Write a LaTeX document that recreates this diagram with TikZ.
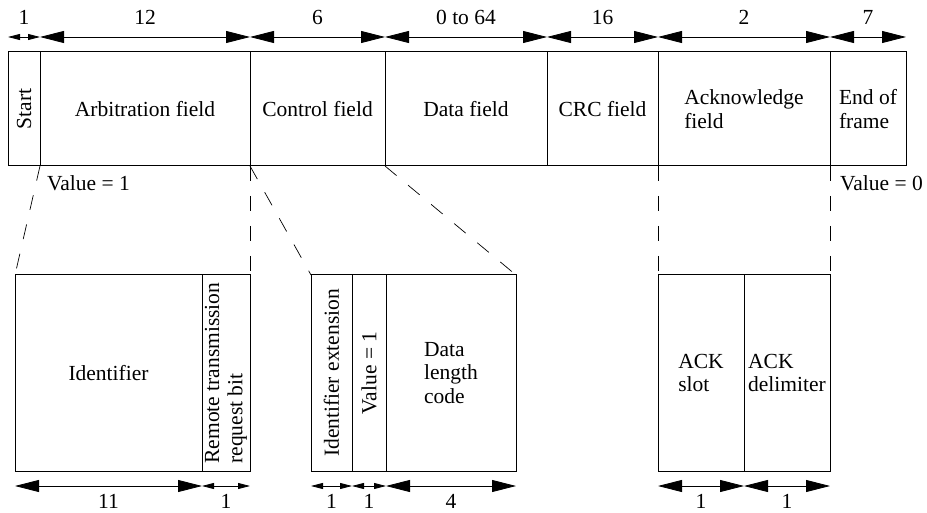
\documentclass[tikz,border=0pt]{standalone}
\usepackage{fontspec}
\setmainfont{Liberation Serif}
\usetikzlibrary{arrows.meta,positioning}
\newcommand\diafont{\fontsize{21.5}{23.3}\selectfont}

\begin{document}
\begin{tikzpicture}[x=1pt,y=-1pt]
\tikzset{
  field/.style={draw,line width=1pt,rectangle,inner sep=0pt,outer sep=0pt,anchor=north west,align=left,font=\diafont},
  bigdim/.style={{Triangle[length=24pt,width=12pt]}-{Triangle[length=24pt,width=12pt]},line width=0.8pt},
  smalldim/.style={{Triangle[length=12pt,width=6pt]}-{Triangle[length=12pt,width=6pt]},line width=0.8pt},
  toplabel/.style={above=12pt,inner sep=0pt,font=\diafont},
  botlabel/.style={below=8pt,inner sep=0pt,font=\diafont},
  guide/.style={line width=0.7pt,dash pattern=on 15pt off 15pt},
  note/.style={anchor=west,inner sep=0pt,font=\diafont}
}
\useasboundingbox (0,0) rectangle (927,513);
\node[field,minimum width=32pt,minimum height=114pt] (f_start) at (8,52) {\rotatebox{90}{Start}};
\node[field,minimum width=210pt,minimum height=114pt] (f_arb) at (40,52) {Arbitration field};
\node[field,minimum width=135pt,minimum height=114pt] (f_ctrl) at (250,52) {Control field};
\node[field,minimum width=162pt,minimum height=114pt] (f_data) at (385,52) {Data field};
\node[field,minimum width=111pt,minimum height=114pt] (f_crc) at (547,52) {CRC field};
\node[field,minimum width=172pt,minimum height=114pt] (f_ack) at (658,52) {Acknowledge\\field};
\node[field,minimum width=76pt,minimum height=114pt] (f_eof) at (830,52) {End of\\frame};
\node[field,minimum width=187pt,minimum height=196pt] (s_ident) at (15,275) {Identifier};
\node[field,minimum width=48pt,minimum height=196pt] (s_rtr) at (202,275) {\rotatebox{90}{\begin{tabular}{@{}l@{}}Remote transmission\\request bit\end{tabular}}};
\node[field,minimum width=41pt,minimum height=196pt] (s_ide) at (311,275) {\rotatebox{90}{Identifier extension}};
\node[field,minimum width=34pt,minimum height=196pt] (s_val) at (352,275) {\rotatebox{90}{Value = 1}};
\node[field,minimum width=130pt,minimum height=196pt] (s_dlc) at (386,275) {Data\\length\\code};
\node[field,minimum width=86pt,minimum height=196pt] (s_slot) at (658,275) {ACK\\slot};
\node[field,minimum width=86pt,minimum height=196pt] (s_delim) at (744,275) {ACK\\delimiter};
\node[note] (v_one) at (47,183) {Value = 1};
\node[note] (v_zero) at (840,183) {Value = 0};
\draw[smalldim] ([yshift=15pt]f_start.north west) -- node[toplabel]{1} ([yshift=15pt]f_start.north east);
\draw[bigdim] ([yshift=15pt]f_arb.north west) -- node[toplabel]{12} ([yshift=15pt]f_arb.north east);
\draw[bigdim] ([yshift=15pt]f_ctrl.north west) -- node[toplabel]{6} ([yshift=15pt]f_ctrl.north east);
\draw[bigdim] ([yshift=15pt]f_data.north west) -- node[toplabel]{0 to 64} ([yshift=15pt]f_data.north east);
\draw[bigdim] ([yshift=15pt]f_crc.north west) -- node[toplabel]{16} ([yshift=15pt]f_crc.north east);
\draw[bigdim] ([yshift=15pt]f_ack.north west) -- node[toplabel]{2} ([yshift=15pt]f_ack.north east);
\draw[bigdim] ([yshift=15pt]f_eof.north west) -- node[toplabel]{7} ([yshift=15pt]f_eof.north east);
\draw[bigdim] ([yshift=-15pt]s_ident.south west) -- node[botlabel]{11} ([yshift=-15pt]s_ident.south east);
\draw[smalldim] ([yshift=-15pt]s_rtr.south west) -- node[botlabel]{1} ([yshift=-15pt]s_rtr.south east);
\draw[smalldim] ([yshift=-15pt]s_ide.south west) -- node[botlabel]{1} ([yshift=-15pt]s_ide.south east);
\draw[smalldim] ([yshift=-15pt]s_val.south west) -- node[botlabel]{1} ([yshift=-15pt]s_val.south east);
\draw[bigdim] ([yshift=-15pt]s_dlc.south west) -- node[botlabel]{4} ([yshift=-15pt]s_dlc.south east);
\draw[bigdim] ([yshift=-15pt]s_slot.south west) -- node[botlabel]{1} ([yshift=-15pt]s_slot.south east);
\draw[bigdim] ([yshift=-15pt]s_delim.south west) -- node[botlabel]{1} ([yshift=-15pt]s_delim.south east);
\draw[guide] (f_start.south east) -- (s_ident.north west);
\draw[guide] (f_arb.south east) -- (s_rtr.north east);
\draw[guide] (f_ctrl.south west) -- (s_ide.north west);
\draw[guide] (f_ctrl.south east) -- (s_dlc.north east);
\draw[guide] (f_ack.south west) -- (s_slot.north west);
\draw[guide] (f_ack.south east) -- (s_delim.north east);
\end{tikzpicture}
\end{document}
